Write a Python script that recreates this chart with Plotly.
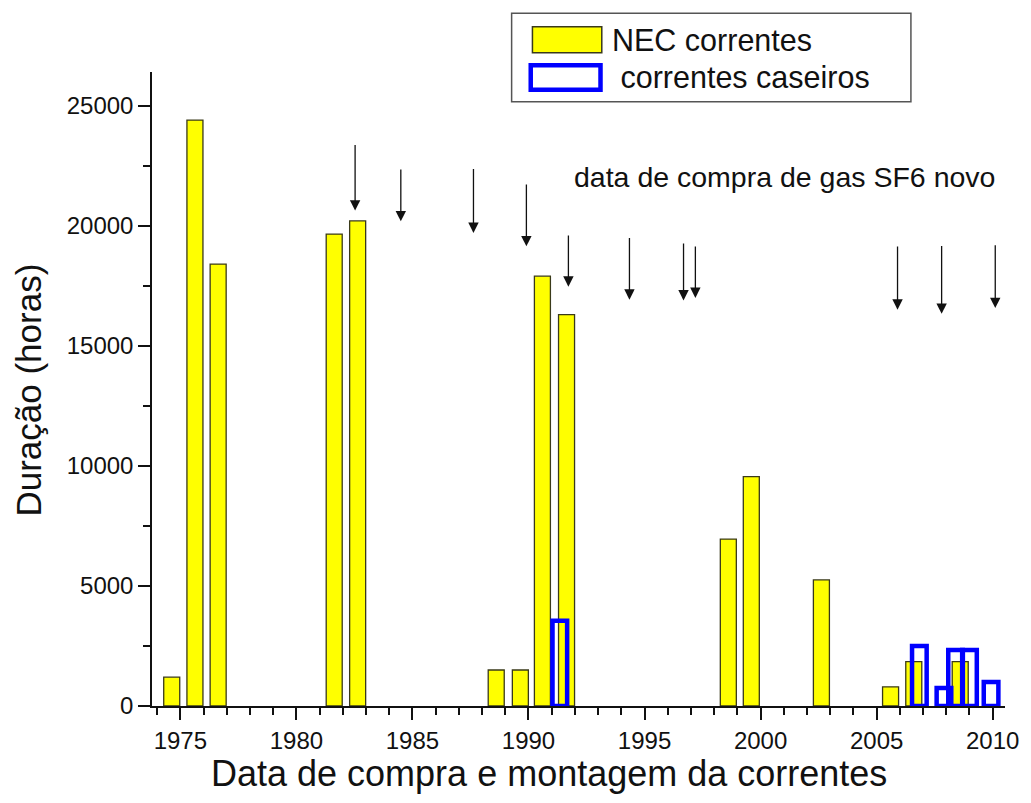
import plotly.graph_objects as go

# NEC bars (yellow)
nec_x = [1974.63, 1975.63, 1976.63, 1981.63, 1982.64, 1988.61, 1989.65, 1990.6, 1991.64,
         1998.61, 1999.6, 2002.62, 2005.6, 2006.6, 2008.6]
nec_y = [1200, 24400, 18400, 19650, 20200, 1500, 1500, 17900, 16300,
         6950, 9550, 5250, 800, 1850, 1850]

# home-made chains (blue outline)
cas_x = [1991.35, 2006.84, 2007.9, 2008.4, 2009.0, 2009.93]
cas_y = [3550, 2500, 750, 2330, 2330, 1000]

# SF6 gas purchase arrows: year, arrow tail value, arrow tip value
arrow_x = [1982.53, 1984.50, 1987.63, 1989.91, 1991.72, 1994.35, 1996.68, 1997.19, 2005.90, 2007.80, 2010.11]
arrow_top = [23420, 22400, 22420, 21780, 19650, 19550, 19320, 19200, 19200, 19220, 19250]
arrow_tip = [20630, 20180, 19700, 19140, 17460, 16920, 16890, 16990, 16500, 16330, 16570]

x_ticks = [1975, 1980, 1985, 1990, 1995, 2000, 2005, 2010]
y_ticks = [0, 5000, 10000, 15000, 20000, 25000]

FONT = "Arial, 'Liberation Sans', sans-serif"

fig = go.Figure()
fig.add_trace(go.Bar(x=nec_x, y=nec_y, width=0.69, name="NEC correntes",
                     marker=dict(color="#FFFF00", line=dict(color="#3a3a1a", width=1.3))))
fig.add_trace(go.Bar(x=cas_x, y=cas_y, width=0.63, name="correntes caseiros",
                     marker=dict(color="rgba(0,0,0,0)", line=dict(color="#0000FF", width=4.5))))

annotations = []
for xa, yt, yp in zip(arrow_x, arrow_top, arrow_tip):
    annotations.append(dict(x=xa, y=yp, ax=xa, ay=yt, xref="x", yref="y", axref="x", ayref="y",
                            text="", showarrow=True, arrowhead=2, arrowsize=1.6, arrowwidth=1.3,
                            arrowcolor="#111111"))

annotations.append(dict(x=2001.05, y=22040, xref="x", yref="y", text="data de compra de gas SF6 novo",
                        showarrow=False, font=dict(family=FONT, size=28.5, color="#111111"),
                        xanchor="center", yanchor="middle"))

# axis titles
annotations.append(dict(x=0.4657, y=-0.1057, xref="paper", yref="paper",
                        text="Data de compra e montagem da correntes", showarrow=False,
                        font=dict(family=FONT, size=36, color="#111111"),
                        xanchor="center", yanchor="middle"))
annotations.append(dict(x=-0.145, y=0.498, xref="paper", yref="paper", textangle=-90,
                        text="Duração (horas)", showarrow=False,
                        font=dict(family=FONT, size=35, color="#111111"),
                        xanchor="center", yanchor="middle"))

# legend text
annotations.append(dict(x=0.537, y=1.0509, xref="paper", yref="paper", text="NEC correntes",
                        showarrow=False, font=dict(family=FONT, size=30.5, color="#111111"),
                        xanchor="left", yanchor="middle"))
annotations.append(dict(x=0.537, y=0.9921, xref="paper", yref="paper", text=" correntes caseiros",
                        showarrow=False, font=dict(family=FONT, size=30.5, color="#111111"),
                        xanchor="left", yanchor="middle"))

shapes = [
    dict(type="rect", xref="paper", yref="paper", x0=0.4216, x1=0.8897, y0=0.9531, y1=1.0926,
         line=dict(color="#555555", width=1.5), fillcolor="white", layer="above"),
    dict(type="rect", xref="paper", yref="paper", x0=0.4460, x1=0.5273, y0=1.0304, y1=1.0714,
         line=dict(color="#3a3a1a", width=1.5), fillcolor="#FFFF00", layer="above"),
    dict(type="rect", xref="paper", yref="paper", x0=0.4440, x1=0.5258, y0=0.9720, y1=1.0106,
         line=dict(color="#0000FF", width=4.5), fillcolor="white", layer="above"),
]

fig.update_layout(
    width=1031, height=803,
    margin=dict(l=152, r=18, t=72, b=97),
    paper_bgcolor="white", plot_bgcolor="white",
    barmode="overlay", showlegend=False,
    font=dict(family=FONT, size=24, color="#111111"),
    annotations=annotations, shapes=shapes,
)
fig.update_xaxes(range=[1973.78, 2010.53], tickvals=x_ticks, ticks="outside", ticklen=12,
                 tickwidth=1.5, tickcolor="#111111",
                 minor=dict(dtick=1, ticks="outside", ticklen=7, tickwidth=1.5, tickcolor="#111111"),
                 showline=True, linecolor="#111111", linewidth=1.5, showgrid=False, zeroline=False,
                 tickfont=dict(size=24))
fig.update_yaxes(range=[0, 26400], tickvals=y_ticks, tickformat="d", ticks="outside", ticklen=12,
                 tickwidth=1.5, tickcolor="#111111",
                 minor=dict(dtick=2500, ticks="outside", ticklen=7, tickwidth=1.5, tickcolor="#111111"),
                 showline=True, linecolor="#111111", linewidth=1.5, showgrid=False, zeroline=False,
                 tickfont=dict(size=24))

fig.write_html("out.html", config={"displayModeBar": False},
               post_script="document.body.style.margin='0px';")
